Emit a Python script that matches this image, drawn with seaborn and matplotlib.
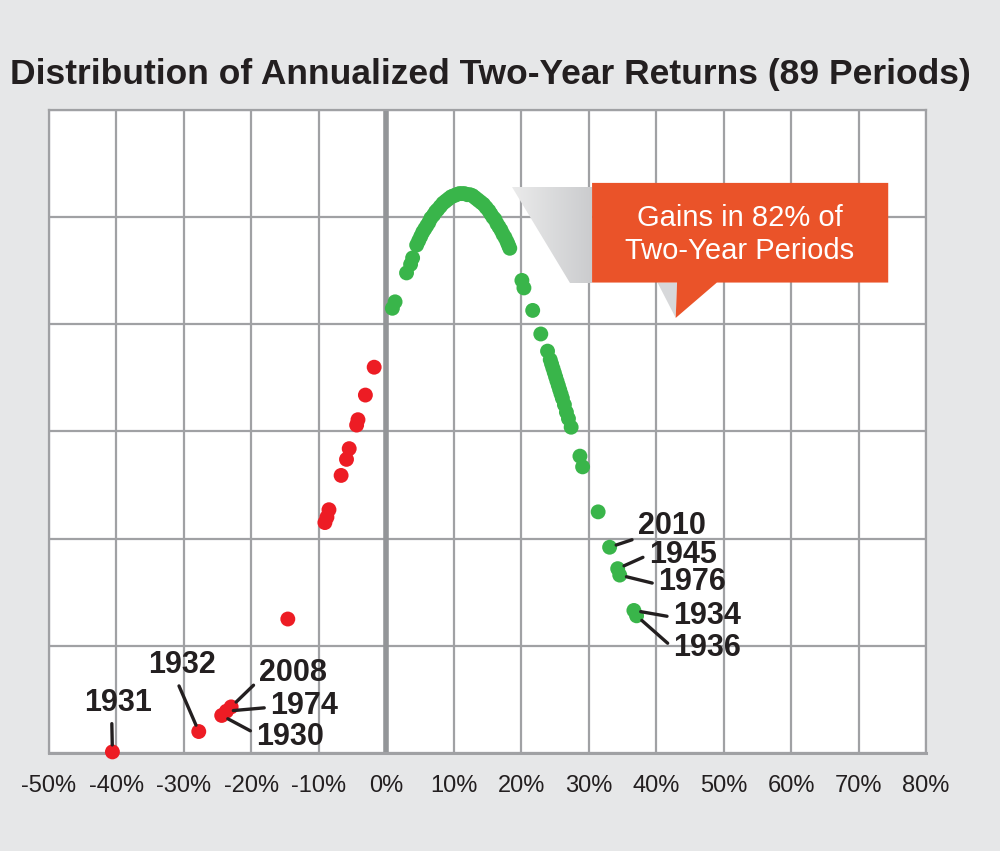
import numpy as np
import pandas as pd
import seaborn as sns
import matplotlib.pyplot as plt
from matplotlib.patches import Polygon

# annualized two-year returns (%) and the bell-curve height each one is drawn at
loss_x = [-40.6, -27.8, -24.4, -23.7, -23.0, -14.6, -9.1, -8.8, -8.5, -6.7,
          -5.9, -5.5, -4.4, -4.2, -3.1, -1.8]
loss_y = [0.01, 0.20, 0.35, 0.39, 0.43, 1.25, 2.15, 2.20, 2.27, 2.59,
          2.74, 2.84, 3.06, 3.11, 3.34, 3.60]

gain_x = [0.9, 1.3, 3.0, 3.6, 3.9,
          4.5, 4.8, 5.1, 5.4, 5.7, 6.0, 6.3, 6.6, 7.0, 7.3, 7.6, 8.0, 8.4, 8.8,
          9.2, 9.6, 10.0, 10.4, 10.8, 11.2, 11.6, 12.0, 12.4, 12.8, 13.2, 13.6,
          14.0, 14.4, 14.8, 15.2, 15.5, 15.8, 16.1, 16.4, 16.7, 17.0, 17.3,
          17.6, 17.9, 18.1, 18.3,
          20.1, 20.4, 21.7, 22.9, 23.9,
          24.3, 24.5, 24.7, 24.9, 25.1, 25.3, 25.5, 25.7, 25.9, 26.1, 26.4,
          26.7, 27.0, 27.4, 28.7, 29.1,
          31.4, 33.1, 34.3, 34.6, 36.7, 37.1]
gain_y = [4.15, 4.21, 4.48, 4.56, 4.62,
          4.74, 4.78, 4.82, 4.86, 4.89, 4.92, 4.95, 4.99, 5.02, 5.05, 5.07,
          5.10, 5.13, 5.15, 5.17, 5.19, 5.20, 5.21, 5.22, 5.22, 5.22, 5.21,
          5.21, 5.20, 5.18, 5.16, 5.14, 5.12, 5.09, 5.06, 5.03, 5.00, 4.98,
          4.94, 4.91, 4.88, 4.84, 4.81, 4.77, 4.74, 4.71,
          4.41, 4.34, 4.13, 3.91, 3.75,
          3.67, 3.63, 3.59, 3.55, 3.51, 3.47, 3.43, 3.39, 3.35, 3.31, 3.25,
          3.18, 3.12, 3.04, 2.77, 2.67,
          2.25, 1.92, 1.72, 1.66, 1.33, 1.28]

x_ticks = [-50, -40, -30, -20, -10, 0, 10, 20, 30, 40, 50, 60, 70, 80]
tick_labels = [f'{t}%' for t in x_ticks]

# labelled periods: (year, x, y, text x, text y, ha, relpos)
loss_labels = [('1931', -40.6, 0.01, -39.8, 0.47, 'center', (0.41, 0.0)),
               ('1932', -27.8, 0.20, -30.3, 0.82, 'center', (0.42, 0.0)),
               ('2008', -23.0, 0.43, -18.9, 0.75, 'left', (0.0, 0.25)),
               ('1974', -23.7, 0.39, -17.2, 0.44, 'left', (0.0, 0.45)),
               ('1930', -24.4, 0.35, -19.3, 0.15, 'left', (0.0, 0.6))]
gain_labels = [('2010', 33.1, 1.92, 37.3, 2.12, 'left', (0.0, 0.1)),
               ('1945', 34.3, 1.72, 38.9, 1.85, 'left', (0.0, 0.5)),
               ('1976', 34.6, 1.66, 40.3, 1.60, 'left', (0.0, 0.4)),
               ('1934', 36.7, 1.33, 42.5, 1.28, 'left', (0.0, 0.45)),
               ('1936', 37.1, 1.28, 42.5, 0.98, 'left', (0.0, 0.5))]

df = pd.DataFrame({
    'ret': loss_x + gain_x,
    'height': loss_y + gain_y,
    'kind': ['loss'] * len(loss_x) + ['gain'] * len(gain_x),
})

sns.set_style('white')
plt.rcParams['font.family'] = ['Liberation Sans', 'DejaVu Sans']

bg = '#e6e7e8'
grid_c = '#a0a1a4'
red = '#ed1c24'
green = '#39b54a'
orange = '#ea5329'
ink = '#231f20'

fig = plt.figure(figsize=(10, 8.51), dpi=100, facecolor=bg)
ax = fig.add_axes([0.049, 0.1152, 0.877, 0.7555])
ax.set_facecolor('white')

sns.scatterplot(data=df, x='ret', y='height', hue='kind',
                palette={'loss': red, 'gain': green}, s=115, linewidth=0,
                legend=False, ax=ax, zorder=5, clip_on=False)

ax.set_xlim(-50, 80)
ax.set_ylim(0, 6)
ax.set_xticks(x_ticks)
ax.set_xticklabels(tick_labels, fontsize=17, color=ink)
ax.set_yticks([0, 1, 2, 3, 4, 5, 6])
ax.set_yticklabels([])
ax.tick_params(axis='x', length=4, width=1.5, color=grid_c, pad=12, direction='out')
ax.tick_params(axis='y', length=0)
ax.grid(True, color=grid_c, linewidth=1.6)
ax.set_axisbelow(True)
for s in ax.spines.values():
    s.set_color(grid_c)
    s.set_linewidth(1.6)
ax.spines['bottom'].set_linewidth(2.2)
ax.set_xlabel('')
ax.set_ylabel('')
ax.axvline(0, color='#939598', linewidth=4, zorder=2)

# gray shadow behind the callout
grad = np.linspace(0, 1, 200)
img = np.tile(grad, (60, 1))
shadow = Polygon([(18.7, 5.28), (30.5, 5.28), (30.5, 4.39), (27.2, 4.39)],
                 closed=True, facecolor='none', edgecolor='none')
ax.add_patch(shadow)
im = ax.imshow(img, cmap=sns.light_palette('#cbccce', as_cmap=True),
               extent=(18.7, 30.5, 4.39, 5.28), aspect='auto', zorder=3,
               vmin=-0.2, vmax=1)
im.set_clip_path(shadow)
tail_shadow = Polygon([(40.2, 4.39), (43.1, 4.39), (42.9, 4.06)], closed=True,
                      facecolor='#d7d8da', edgecolor='none', zorder=3)
ax.add_patch(tail_shadow)

# orange callout box
box = Polygon([(30.5, 5.32), (74.4, 5.32), (74.4, 4.39), (49.0, 4.39),
               (42.9, 4.06), (43.1, 4.39), (30.5, 4.39)], closed=True,
              facecolor=orange, edgecolor='none', zorder=4)
ax.add_patch(box)
ax.text(52.4, 4.84, 'Gains in 82% of\nTwo-Year Periods', color='white',
        fontsize=21, ha='center', va='center', linespacing=1.25, zorder=6)
ax.set_xlim(-50, 80)
ax.set_ylim(0, 6)

for year, px, py, tx, ty, ha, rp in loss_labels + gain_labels:
    ax.annotate(year, xy=(px, py), xytext=(tx, ty), textcoords='data',
                ha=ha, va='center', fontsize=22, fontweight='bold', color=ink,
                zorder=7,
                arrowprops=dict(arrowstyle='-', color=ink, lw=2.4,
                                shrinkA=2, shrinkB=5, relpos=rp))

fig.text(0.01, 0.913, 'Distribution of Annualized Two-Year Returns (89 Periods)',
         fontsize=25.5, fontweight='bold', color=ink, ha='left', va='center')

fig.savefig('out.png', dpi=100, facecolor=bg)
